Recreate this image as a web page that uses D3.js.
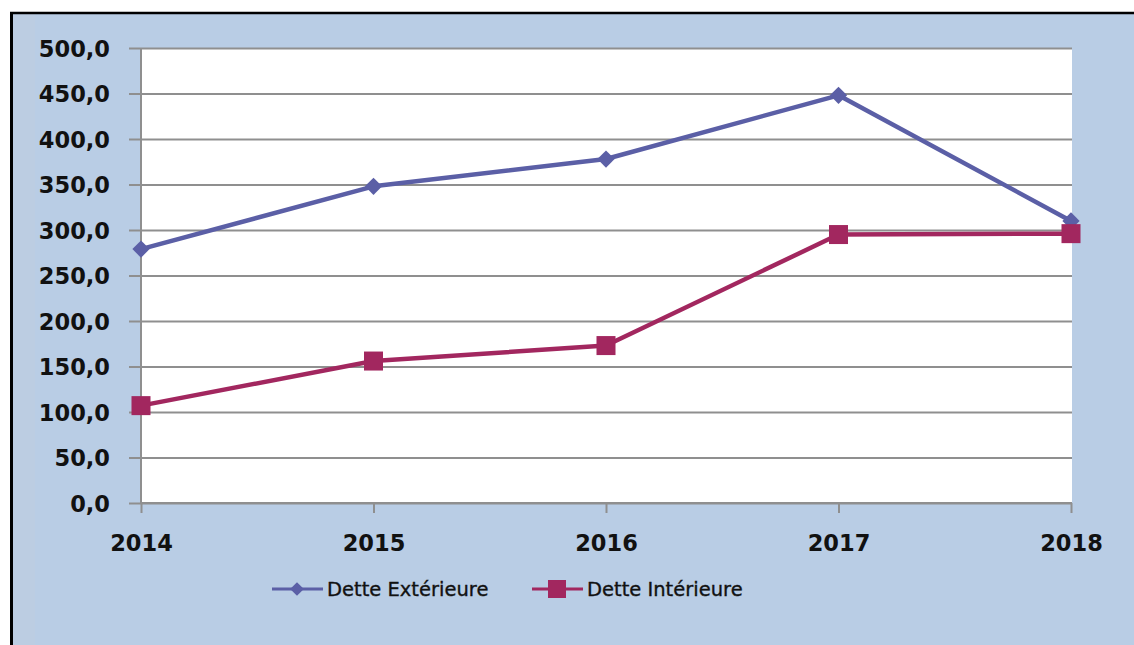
<!DOCTYPE html>
<html>
<head>
<meta charset="utf-8">
<script src="https://cdn.jsdelivr.net/npm/d3@7"></script>
<style>
  html, body { margin: 0; padding: 0; background: #ffffff; }
  svg { display: block; }
</style>
</head>
<body>
<svg id="chart" width="1134" height="645"></svg>
<script>
// Debt series (in billions), one value per year
const years = ["2014", "2015", "2016", "2017", "2018"];
const detteExterieure = [279, 348, 378, 448, 310];
const detteInterieure = [107, 156, 173, 295, 296];
const yTicks = [0, 50, 100, 150, 200, 250, 300, 350, 400, 450, 500];
const seriesNames = ["Dette Extérieure", "Dette Intérieure"];

const W = 1134, H = 645;
const svg = d3.select("#chart");
const fontFamily = "'DejaVu Sans', Verdana, sans-serif";

// Chart frame
svg.append("rect").attr("x", 12).attr("y", 13).attr("width", W - 12).attr("height", H - 13)
  .attr("fill", "#b9cde5");
svg.append("rect").attr("x", 13).attr("y", 14).attr("width", 22).attr("height", H - 14)
  .attr("fill", "#bccde2");
svg.append("line").attr("x1", 11.5).attr("x2", 11.5).attr("y1", 12).attr("y2", H)
  .attr("stroke", "#000").attr("stroke-width", 3);
svg.append("line").attr("x1", 10).attr("x2", W).attr("y1", 13).attr("y2", 13)
  .attr("stroke", "#000").attr("stroke-width", 2.5);

const plot = { left: 141, right: 1072, top: 48, bottom: 503 };

const x = d3.scalePoint().domain(years).range([plot.left, plot.right - 1]);
const y = d3.scaleLinear().domain([0, 500]).range([plot.bottom, plot.top]);

// Plot area
svg.append("rect").attr("x", plot.left).attr("y", plot.top)
  .attr("width", plot.right - plot.left).attr("height", plot.bottom - plot.top)
  .attr("fill", "#ffffff");

// Horizontal gridlines with left tick marks
const yAxis = d3.axisLeft(y).tickValues(yTicks)
  .tickSize(-(plot.right - plot.left))
  .tickFormat(d => d3.format(".1f")(d).replace(".", ","));
const gy = svg.append("g").attr("transform", `translate(${plot.left},0)`).call(yAxis);
gy.select(".domain").remove();
gy.selectAll(".tick line").attr("stroke", "#8f8f8f").attr("stroke-width", 2)
  .attr("x1", -12);
gy.selectAll(".tick text")
  .attr("x", -31).attr("dy", "0.36em")
  .attr("font-family", fontFamily).attr("font-weight", "bold")
  .attr("font-size", 22.5).attr("fill", "#111");

// Left axis line
svg.append("line").attr("x1", plot.left).attr("x2", plot.left)
  .attr("y1", plot.top).attr("y2", plot.bottom)
  .attr("stroke", "#8f8f8f").attr("stroke-width", 2);

// Category axis
const xAxis = d3.axisBottom(x).tickSize(10).tickPadding(22);
const gx = svg.append("g").attr("transform", `translate(0,${plot.bottom})`).call(xAxis);
gx.select(".domain").attr("stroke", "#8f8f8f").attr("stroke-width", 2)
  .attr("d", `M${plot.left},0H${plot.right}`);
gx.selectAll(".tick line").attr("stroke", "#8f8f8f").attr("stroke-width", 2);
gx.selectAll(".tick text")
  .attr("font-family", fontFamily).attr("font-weight", "bold")
  .attr("font-size", 22.5).attr("fill", "#111");

// Series
const blue = "#5b5fa6";
const crimson = "#a2275f";
const line = d3.line().x((d, i) => x(years[i])).y(d => y(d));

svg.append("path").datum(detteExterieure).attr("d", line)
  .attr("fill", "none").attr("stroke", blue).attr("stroke-width", 4.5)
  .attr("stroke-linejoin", "round");
svg.append("path").datum(detteInterieure).attr("d", line)
  .attr("fill", "none").attr("stroke", crimson).attr("stroke-width", 4.5)
  .attr("stroke-linejoin", "round");

const diamond = d3.symbol().type(d3.symbolDiamond2).size(190);
svg.append("g").selectAll("path").data(detteExterieure).join("path")
  .attr("d", diamond)
  .attr("transform", (d, i) => `translate(${x(years[i])},${y(d)})`)
  .attr("fill", blue);

const sq = 19;
svg.append("g").selectAll("rect").data(detteInterieure).join("rect")
  .attr("x", (d, i) => x(years[i]) - sq / 2)
  .attr("y", d => y(d) - sq / 2)
  .attr("width", sq).attr("height", sq)
  .attr("fill", crimson);

// Legend
const legendY = 589;
const legend = [
  { name: seriesNames[0], color: blue, x0: 272, shape: "diamond" },
  { name: seriesNames[1], color: crimson, x0: 532, shape: "square" }
];
legend.forEach(l => {
  const g = svg.append("g");
  g.append("line").attr("x1", l.x0).attr("x2", l.x0 + 51)
    .attr("y1", legendY).attr("y2", legendY)
    .attr("stroke", l.color).attr("stroke-width", 3);
  if (l.shape === "diamond") {
    g.append("path").attr("d", d3.symbol().type(d3.symbolDiamond2).size(120))
      .attr("transform", `translate(${l.x0 + 25},${legendY})`).attr("fill", l.color);
  } else {
    g.append("rect").attr("x", l.x0 + 25 - 9).attr("y", legendY - 9)
      .attr("width", 18).attr("height", 18).attr("fill", l.color);
  }
  g.append("text").attr("x", l.x0 + 55).attr("y", legendY).attr("dy", "0.36em")
    .attr("font-family", fontFamily).attr("font-size", 19.5)
    .attr("stroke", "#111").attr("stroke-width", 0.35)
    .attr("fill", "#111").text(l.name);
});
</script>
</body>
</html>
